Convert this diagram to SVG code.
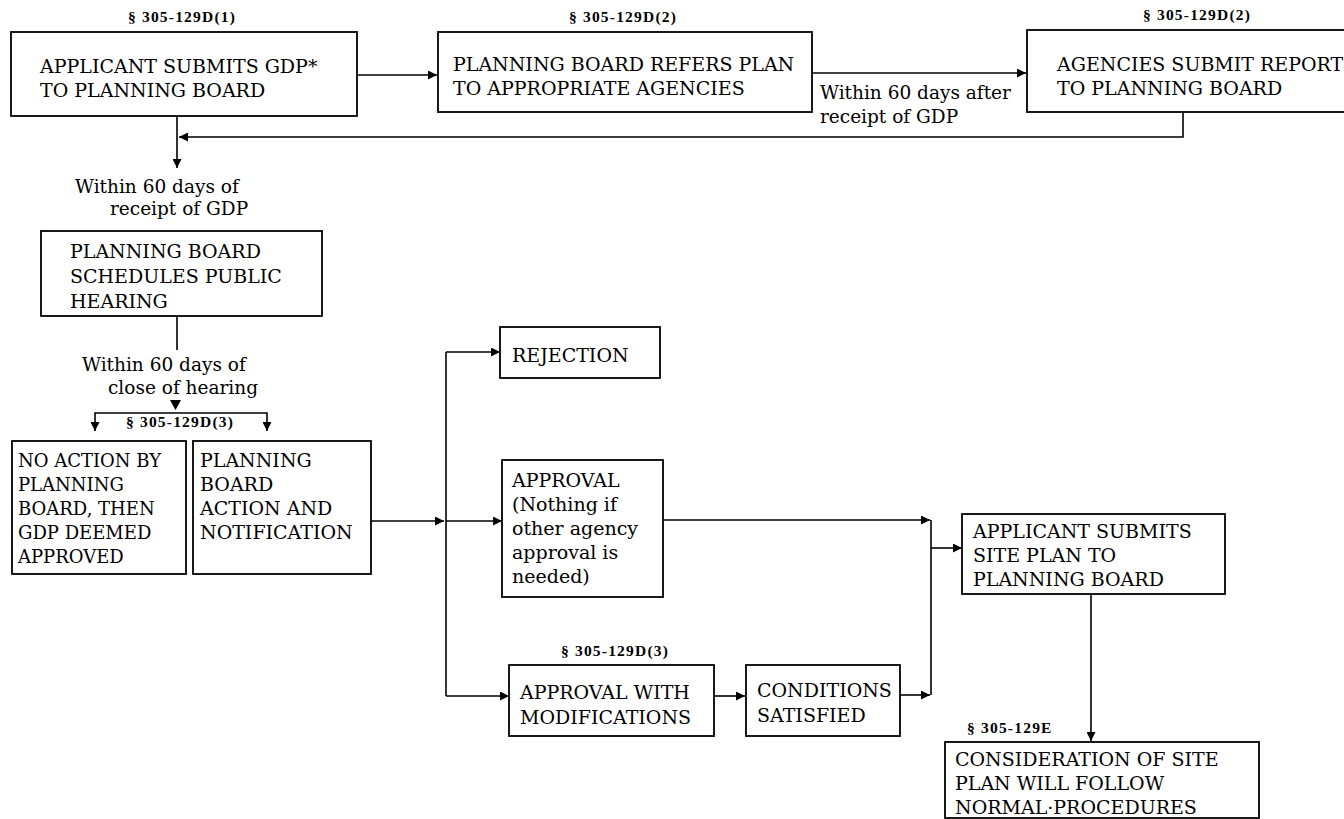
<svg xmlns="http://www.w3.org/2000/svg" width="1344" height="819" viewBox="0 0 1344 819">
<style>
.box{fill:#fff;stroke:#000;stroke-width:1.8}
.t{font-family:"DejaVu Serif","Liberation Serif",serif;font-size:19px;fill:#000}
.t5{font-family:"DejaVu Serif","Liberation Serif",serif;font-size:18px;fill:#000}
.n{font-family:"DejaVu Serif","Liberation Serif",serif;font-size:18.5px;fill:#000}
.s{font-family:"Liberation Serif","DejaVu Serif",serif;font-size:15.5px;font-weight:bold;fill:#000;letter-spacing:1.2px}
.c{fill:none;stroke:#000;stroke-width:1.6}
</style>
<defs>
<marker id="ah" viewBox="0 0 10 10" refX="10" refY="5" markerWidth="10" markerHeight="9" markerUnits="userSpaceOnUse" orient="auto-start-reverse">
<path d="M0,0 L10,5 L0,10 z" fill="#000"/>
</marker>
</defs>
<rect width="1344" height="819" fill="#fff"/>

<g id="connectors">
<line class="c" x1="357" y1="75" x2="437" y2="75" marker-end="url(#ah)"/>
<line class="c" x1="812" y1="73" x2="1026" y2="73" marker-end="url(#ah)"/>
<polyline class="c" points="1183,112 1183,137 179,137" marker-end="url(#ah)"/>
<line class="c" x1="177" y1="116" x2="177" y2="168" marker-end="url(#ah)"/>
<line class="c" x1="177" y1="316" x2="177" y2="350"/>
<path d="M170,400 L181,400 L175.5,410 z" fill="#000"/>
<polyline class="c" points="95,431 95,413 267,413 267,431" marker-start="url(#ah)" marker-end="url(#ah)"/>
<line class="c" x1="371" y1="521" x2="444" y2="521" marker-end="url(#ah)"/>
<line class="c" x1="446" y1="352" x2="446" y2="696"/>
<line class="c" x1="446" y1="352" x2="500" y2="352" marker-end="url(#ah)"/>
<line class="c" x1="446" y1="521" x2="502" y2="521" marker-end="url(#ah)"/>
<line class="c" x1="446" y1="696" x2="509" y2="696" marker-end="url(#ah)"/>
<line class="c" x1="663" y1="520" x2="930" y2="520" marker-end="url(#ah)"/>
<line class="c" x1="714" y1="696" x2="745" y2="696" marker-end="url(#ah)"/>
<line class="c" x1="900" y1="695" x2="930" y2="695" marker-end="url(#ah)"/>
<line class="c" x1="931" y1="520" x2="931" y2="695"/>
<line class="c" x1="931" y1="548" x2="962" y2="548" marker-end="url(#ah)"/>
<line class="c" x1="1091" y1="594" x2="1091" y2="741" marker-end="url(#ah)"/>
</g>

<g id="labels">
<text class="n" x="820" y="99">Within 60 days after</text>
<text class="n" x="820" y="123">receipt of GDP</text>
<text class="n" x="75" y="193">Within 60 days of</text>
<text class="n" x="110" y="215">receipt of GDP</text>
<text class="n" x="82" y="371">Within 60 days of</text>
<text class="n" x="108" y="394">close of hearing</text>
</g>

<g id="n1">
<text class="s" x="182" y="22" text-anchor="middle">§ 305-129D(1)</text>
<rect class="box" x="11" y="32" width="346" height="84"/>
<text class="t" x="40" y="73">APPLICANT SUBMITS GDP*</text>
<text class="t" x="40" y="97">TO PLANNING BOARD</text>
</g>

<g id="n2">
<text class="s" x="623" y="22" text-anchor="middle">§ 305-129D(2)</text>
<rect class="box" x="438" y="32" width="374" height="80"/>
<text class="t" x="453" y="71">PLANNING BOARD REFERS PLAN</text>
<text class="t" x="453" y="95">TO APPROPRIATE AGENCIES</text>
</g>

<g id="n3">
<text class="s" x="1197" y="20" text-anchor="middle">§ 305-129D(2)</text>
<rect class="box" x="1027" y="30" width="330" height="82"/>
<text class="t" x="1057" y="71">AGENCIES SUBMIT REPORT</text>
<text class="t" x="1057" y="95">TO PLANNING BOARD</text>
</g>

<g id="n4">
<rect class="box" x="41" y="231" width="281" height="85"/>
<text class="t" x="70" y="258">PLANNING BOARD</text>
<text class="t" x="70" y="283">SCHEDULES PUBLIC</text>
<text class="t" x="70" y="308">HEARING</text>
</g>

<g id="lbl3">
<text class="s" x="180" y="427" text-anchor="middle">§ 305-129D(3)</text>
</g>

<g id="n5">
<rect class="box" x="12" y="441" width="174" height="133"/>
<text class="t5" x="18" y="467">NO ACTION BY</text>
<text class="t5" x="18" y="491">PLANNING</text>
<text class="t5" x="18" y="515">BOARD, THEN</text>
<text class="t5" x="18" y="539">GDP DEEMED</text>
<text class="t5" x="18" y="563">APPROVED</text>
</g>

<g id="n6">
<rect class="box" x="193" y="441" width="178" height="133"/>
<text class="t" x="200" y="467">PLANNING</text>
<text class="t" x="200" y="491">BOARD</text>
<text class="t" x="200" y="515">ACTION AND</text>
<text class="t" x="200" y="539">NOTIFICATION</text>
</g>

<g id="n7">
<rect class="box" x="500" y="327" width="160" height="51"/>
<text class="t" x="512" y="362">REJECTION</text>
</g>

<g id="n8">
<rect class="box" x="502" y="460" width="161" height="137"/>
<text class="t" x="512" y="487">APPROVAL</text>
<text class="t" x="512" y="511">(Nothing if</text>
<text class="t" x="512" y="535">other agency</text>
<text class="t" x="512" y="559">approval is</text>
<text class="t" x="512" y="583">needed)</text>
</g>

<g id="n9">
<text class="s" x="615" y="656" text-anchor="middle">§ 305-129D(3)</text>
<rect class="box" x="509" y="665" width="205" height="71"/>
<text class="t" x="520" y="699">APPROVAL WITH</text>
<text class="t" x="520" y="724">MODIFICATIONS</text>
</g>

<g id="n10">
<rect class="box" x="746" y="665" width="154" height="71"/>
<text class="t" x="757" y="697">CONDITIONS</text>
<text class="t" x="757" y="722">SATISFIED</text>
</g>

<g id="n11">
<rect class="box" x="962" y="514" width="263" height="80"/>
<text class="t" x="973" y="538">APPLICANT SUBMITS</text>
<text class="t" x="973" y="562">SITE PLAN TO</text>
<text class="t" x="973" y="586">PLANNING BOARD</text>
</g>

<g id="n12">
<text class="s" x="967" y="733">§ 305-129E</text>
<rect class="box" x="945" y="742" width="314" height="76"/>
<text class="t" x="955" y="766">CONSIDERATION OF SITE</text>
<text class="t" x="955" y="790">PLAN WILL FOLLOW</text>
<text class="t" x="955" y="814">NORMAL·PROCEDURES</text>
</g>
</svg>
